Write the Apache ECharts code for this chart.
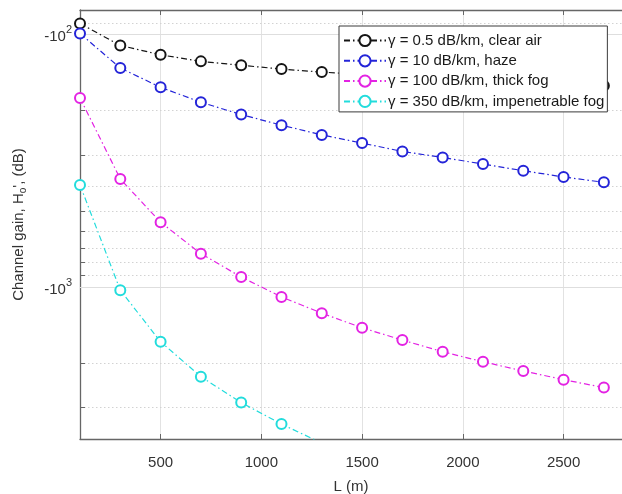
<!DOCTYPE html>
<html><head><meta charset="utf-8">
<script src="https://cdn.jsdelivr.net/npm/echarts@6/dist/echarts.min.js"></script>
<style>html,body{margin:0;padding:0;background:#fff}#c{width:622px;height:494px}</style>
</head><body><div id="c"></div>
<script>
// Link distance L (m)
const distances = [100, 300, 500, 700, 900, 1100, 1300, 1500, 1700, 1900, 2100, 2300, 2500, 2700];
// Channel gain magnitudes |H_o'| (dB); the plotted values are negative (-|H|)
const clearAir = [90.5, 110.5, 120.4, 127.8, 132.5, 137.1, 140.9, 144, 147, 150, 152.5, 155, 157.3, 159.5];
const haze = [99.1, 135.8, 161.9, 185.5, 207.6, 228.6, 249.9, 269.3, 290.6, 306.9, 326.0, 346.3, 366.7, 385.1];
const thickFog = [178.4, 373.5, 554.1, 738.2, 913.2, 1095, 1270, 1451, 1623, 1805, 1977, 2151, 2328, 2503];
const impenetrableFog = [394.4, 1030, 1648, 2266, 2870, 3491, 4150];
const seriesNames = [
  'γ = 0.5 dB/km, clear air',
  'γ = 10 dB/km, haze',
  'γ = 100 dB/km, thick fog',
  'γ = 350 dB/km, impenetrable fog'
];
const seriesColors = ['#151515', '#2424d8', '#e323e3', '#22dcdc'];
const yMajorGrid = [100, 1000];
const yMinorGrid = [90, 200, 300, 400, 500, 600, 700, 800, 900, 2000, 3000];
const xTickLabels = [500, 1000, 1500, 2000, 2500];

const FONT = 'Liberation Sans';
const X_MIN = 100, X_MAX = 2790;
const MINOR_TICK_SPAN = 25; // in axis units along L

const allValues = [clearAir, haze, thickFog, impenetrableFog];
const dash = [6, 3, 1.5, 3];

const series = allValues.map((vals, k) => ({
  name: seriesNames[k],
  type: 'line',
  data: vals.map((v, i) => [distances[i], v]),
  symbol: 'emptyCircle',
  symbolSize: 10,
  showAllSymbol: true,
  clip: true,
  z: 3,
  lineStyle: {color: seriesColors[k], width: 1.2, type: dash},
  itemStyle: {color: seriesColors[k], borderColor: seriesColors[k], borderWidth: 1.3},
  emphasis: {disabled: true},
  silent: true
}));

series.push({
  type: 'line',
  data: [],
  silent: true,
  z: 1,
  markLine: {
    silent: true,
    z: 1,
    symbol: 'none',
    label: {show: false},
    animation: false,
    data: yMajorGrid.map(v => ({yAxis: v, lineStyle: {color: '#dedede', width: 1, type: 'solid'}}))
      .concat(yMinorGrid.map(v => ({yAxis: v, lineStyle: {color: '#d2d2d2', width: 1, type: [1.5, 2.5]}})))
      .concat(yMinorGrid.map(v => [
        {coord: [X_MIN, v], lineStyle: {color: '#666', width: 1, type: 'solid'}},
        {coord: [X_MIN + MINOR_TICK_SPAN, v]}
      ]))
  }
});

const chart = echarts.init(document.getElementById('c'), null, {renderer: 'canvas'});
chart.setOption({
  animation: false,
  backgroundColor: '#fff',
  textStyle: {fontFamily: FONT},
  grid: {left: 80, right: 0, top: 10, bottom: 55, containLabel: false, outerBoundsMode: 'none'},
  legend: {
    orient: 'vertical',
    left: 339, top: 26,
    padding: [7, 3, 3, 4],
    itemGap: 5.3,
    itemWidth: 42,
    itemHeight: 14,
    z: 10,
    backgroundColor: '#fff',
    borderColor: '#3a3a3a',
    borderWidth: 1,
    borderRadius: 0,
    textStyle: {fontFamily: FONT, fontSize: 15, color: '#1a1a1a', padding: [0, 0, 0, -3]},
    data: seriesNames
  },
  xAxis: [{
    type: 'value',
    min: X_MIN, max: X_MAX,
    splitNumber: 5,
    name: 'L (m)',
    nameLocation: 'middle',
    nameGap: 40,
    nameTextStyle: {fontFamily: FONT, fontSize: 15, color: '#333'},
    axisLine: {show: true, lineStyle: {color: '#666', width: 1.3}},
    axisTick: {show: true, inside: true, length: 5, lineStyle: {color: '#666'}},
    axisLabel: {
      showMinLabel: false, showMaxLabel: false,
      fontFamily: FONT, fontSize: 15, color: '#333', margin: 16,
      formatter: v => xTickLabels.indexOf(v) >= 0 ? String(v) : ''
    },
    splitLine: {show: true, lineStyle: {color: '#e2e2e2', width: 1}}
  }, {
    type: 'value',
    position: 'top',
    min: X_MIN, max: X_MAX,
    splitNumber: 5,
    axisLine: {show: true, lineStyle: {color: '#666', width: 1.3}},
    axisTick: {show: true, inside: true, length: 5, lineStyle: {color: '#666'}},
    axisLabel: {show: false},
    splitLine: {show: false}
  }],
  yAxis: {
    type: 'log',
    logBase: 10,
    min: 80, max: 4000,
    inverse: true,
    name: "{a|Channel gain, H}{s|o}{a|', (dB)}",
    nameLocation: 'middle',
    nameRotate: 90,
    nameGap: 52,
    nameTextStyle: {
      color: '#333',
      rich: {
        a: {fontFamily: FONT, fontSize: 15, color: '#333'},
        s: {fontFamily: FONT, fontSize: 10, color: '#333', padding: [8, 0, 0, 0]}
      }
    },
    axisLine: {show: true, lineStyle: {color: '#666', width: 1.3}},
    axisTick: {show: true, inside: true, length: 5, lineStyle: {color: '#666'}},
    axisLabel: {
      showMinLabel: false, showMaxLabel: false,
      margin: 8,
      formatter: v => {
        const e = Math.round(Math.log10(v));
        if (Math.abs(Math.log10(v) - e) > 1e-6) return '';
        return '{b|-10}{s|' + e + '}';
      },
      rich: {
        b: {fontFamily: FONT, fontSize: 15, color: '#333', verticalAlign: 'bottom'},
        s: {fontFamily: FONT, fontSize: 11, color: '#333', verticalAlign: 'bottom', padding: [0, 0, 9, 0]}
      }
    },
    splitLine: {show: false}
  },
  series: series
});
</script>
</body></html>
